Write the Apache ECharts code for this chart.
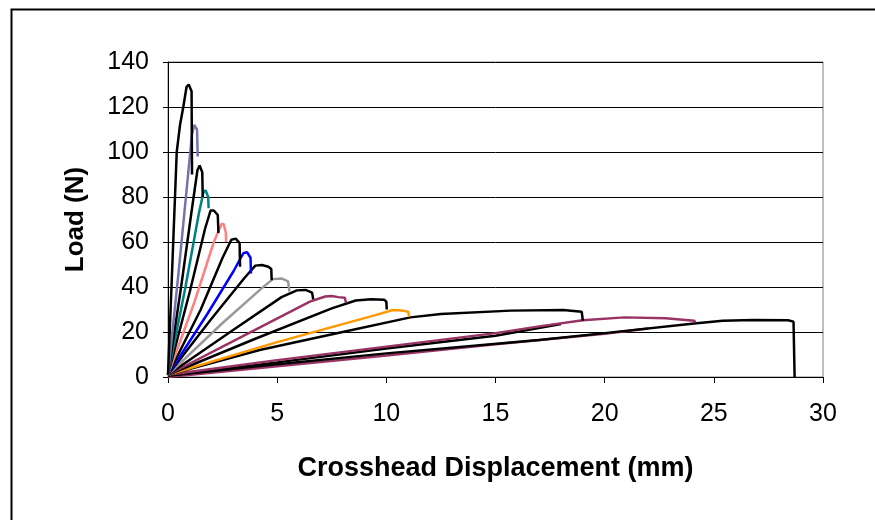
<!DOCTYPE html>
<html>
<head>
<meta charset="utf-8">
<script src="https://cdn.jsdelivr.net/npm/echarts@6/dist/echarts.min.js"></script>
<style>
  html, body { margin: 0; padding: 0; background: #fff; }
  #chart { width: 875px; height: 520px; }
</style>
</head>
<body>
<div id="chart"></div>
<script>
// load-displacement curves, [displacement mm, load N]
const curve1 = [[0, 1], [0.2, 50], [0.4, 100], [0.55, 112], [0.7, 120], [0.85, 129], [0.95, 130], [1.08, 127], [1.1, 90]];
const curve2 = [[0, 1], [0.5, 48], [0.9, 88], [1.1, 108], [1.2, 112], [1.33, 110], [1.36, 98]];
const curve3 = [[0, 1], [0.6, 40], [1.1, 75], [1.35, 92], [1.45, 94], [1.57, 91], [1.59, 80]];
const curve4 = [[0, 1], [0.8, 40], [1.4, 72], [1.62, 82], [1.72, 83], [1.84, 80], [1.86, 75]];
const curve5 = [[0, 1], [1, 38], [1.7, 66], [1.95, 74], [2.1, 74], [2.28, 72], [2.31, 64]];
const curve6 = [[0, 1], [1.2, 33], [2.1, 60], [2.45, 68], [2.55, 68], [2.65, 64], [2.66, 60]];
const curve7 = [[0, 1], [1.5, 30], [2.5, 53], [2.9, 61], [3.1, 61.5], [3.28, 59.5], [3.3, 49]];
const curve8 = [[0, 1], [1.8, 28], [3.0, 47], [3.45, 55], [3.62, 55.5], [3.78, 53], [3.8, 46]];
const curve9 = [[0, 1], [2, 26], [3.5, 44], [4.0, 49.5], [4.3, 49.8], [4.6, 49], [4.73, 48], [4.75, 43]];
const curve10 = [[0, 1], [2.5, 24], [4.3, 39.5], [4.8, 43.5], [5.2, 43.8], [5.5, 42.5], [5.56, 38]];
const curve11 = [[0, 1], [3, 21], [5.2, 35.5], [5.9, 38.5], [6.3, 38.7], [6.6, 37.5], [6.65, 34.5]];
const curve12 = [[0, 1], [3.5, 18.5], [6.5, 33.5], [7.2, 35.8], [7.5, 36], [7.8, 35.5], [8.1, 35.2], [8.15, 33]];
const curve13 = [[0, 1], [4, 17], [7.5, 30.5], [8.6, 34], [9.3, 34.6], [9.9, 34.3], [10.0, 33.5], [10.02, 30]];
const curve14 = [[0, 1], [5, 15.5], [9.5, 27.5], [10.3, 29.8], [10.7, 29.6], [11.0, 29], [11.05, 26.8]];
const curve15 = [[0, 1], [4.2, 12], [8, 20], [11.1, 26.5], [12.5, 28], [15.7, 29.5], [18.1, 29.8], [18.95, 29], [19.0, 25]];
const curve16 = [[0, 1], [5, 7.5], [10, 13.5], [15, 19.5], [17, 22.5], [19, 25.2], [20.9, 26.5], [22.8, 26.1], [24.1, 25.0], [24.15, 24.3]];
const curve16b = [[0, 0.5], [5, 6.5], [10, 12.7], [15, 18.3], [18, 23.5]];
const curve17 = [[0, 0.5], [4.2, 4.9], [10, 10.5], [17, 16.4], [20, 19.5], [24.1, 23.8], [25.4, 25], [26.8, 25.3], [28.4, 25.2], [28.65, 24.6], [28.7, 0]];
const curve17b = [[0, 0], [5, 4.8], [10, 9.6], [15, 14.6], [20, 19.2], [22, 21.6]];

const curves = [curve16b, curve17b, curve17, curve16, curve15, curve14, curve13, curve12, curve11,
  curve10, curve9, curve8, curve7, curve6, curve5, curve4, curve3, curve2, curve1];
const colors = ['#000000', '#993366', '#000000', '#993366', '#000000', '#ff9900', '#000000', '#993366', '#000000',
  '#999999', '#000000', '#0000ff', '#000000', '#ff8080', '#000000', '#008080', '#000000', '#7373b0', '#000000'];

const xTicks = { min: 0, max: 30, interval: 5 };
const yTicks = { min: 0, max: 140, interval: 20 };

const chart = echarts.init(document.getElementById('chart'));

const font = 'Liberation Sans, Arial, sans-serif';

const options = {
  animation: false,
  backgroundColor: '#fff',
  grid: {
    left: 168,
    top: 62,
    width: 655,
    height: 315,
    show: true,
    borderColor: '#808080',
    borderWidth: 1,
  },
  xAxis: {
    type: 'value',
    min: xTicks.min,
    max: xTicks.max,
    interval: xTicks.interval,
    name: 'Crosshead Displacement (mm)',
    nameLocation: 'middle',
    nameGap: 78,
    nameTextStyle: { fontFamily: font, fontSize: 27, fontWeight: 'bold', color: '#000' },
    axisLine: { lineStyle: { color: '#000', width: 1 } },
    axisTick: { length: 6, lineStyle: { color: '#000' } },
    axisLabel: { fontFamily: font, fontSize: 25, color: '#000', margin: 25 },
    splitLine: { show: false },
  },
  yAxis: {
    type: 'value',
    min: yTicks.min,
    max: yTicks.max,
    interval: yTicks.interval,
    name: 'Load (N)',
    nameLocation: 'middle',
    nameGap: 79,
    nameTextStyle: { fontFamily: font, fontSize: 26, fontWeight: 'bold', color: '#000' },
    axisLine: { show: true, lineStyle: { color: '#000', width: 1 } },
    axisTick: { show: true, length: 5, lineStyle: { color: '#000' } },
    axisLabel: { fontFamily: font, fontSize: 25, color: '#000', margin: 19 },
    splitLine: { lineStyle: { color: '#000', width: 1 } },
  },
  graphic: [
    {
      type: 'rect',
      left: 9,
      top: 7,
      shape: { width: 880, height: 530 },
      style: { fill: 'none', stroke: '#000', lineWidth: 2 },
      silent: true,
    },
  ],
  series: curves.map((c, i) => ({
    type: 'line',
    data: c,
    showSymbol: false,
    lineStyle: { color: colors[i], width: 2.5 },
    itemStyle: { color: colors[i] },
  })),
};

chart.setOption(options);
</script>
</body>
</html>
